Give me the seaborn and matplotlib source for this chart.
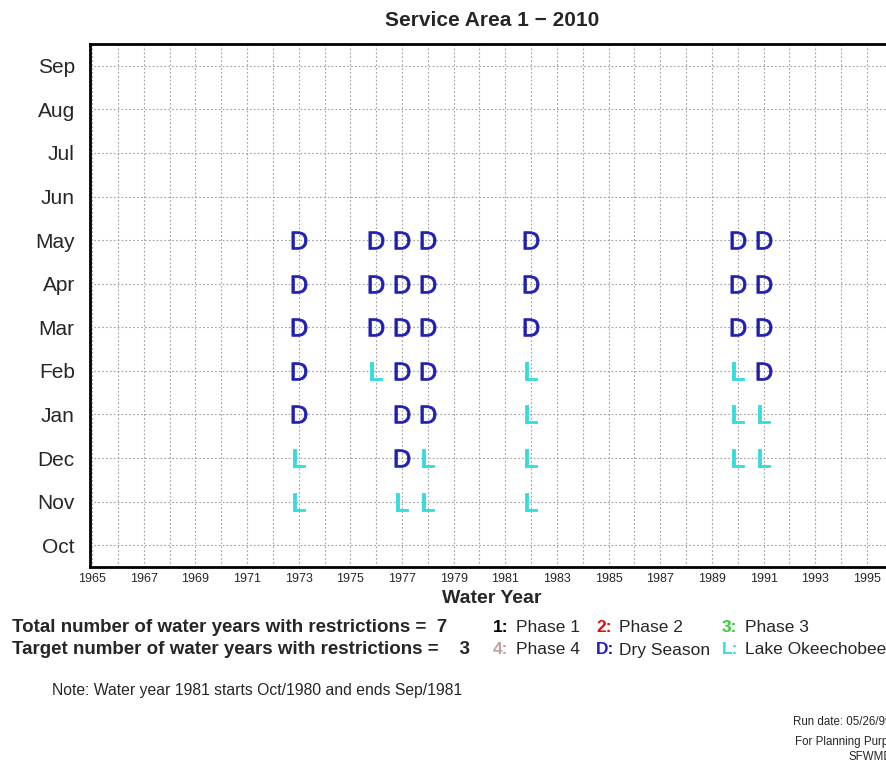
import pandas as pd
import matplotlib.pyplot as plt
import seaborn as sns

# month rows of a water year, bottom (Oct) to top (Sep)
months = ['Oct', 'Nov', 'Dec', 'Jan', 'Feb', 'Mar', 'Apr', 'May', 'Jun', 'Jul', 'Aug', 'Sep']

# water years with restrictions and the code shown for Nov..May ('' = nothing)
restriction_years = [1973, 1976, 1977, 1978, 1982, 1990, 1991]
season_months = ['Nov', 'Dec', 'Jan', 'Feb', 'Mar', 'Apr', 'May']
codes = [
    ['L', 'L', 'D', 'D', 'D', 'D', 'D'],  # 1973
    ['', '', '', 'L', 'D', 'D', 'D'],     # 1976
    ['L', 'D', 'D', 'D', 'D', 'D', 'D'],  # 1977
    ['L', 'L', 'D', 'D', 'D', 'D', 'D'],  # 1978
    ['L', 'L', 'L', 'L', 'D', 'D', 'D'],  # 1982
    ['', 'L', 'L', 'L', 'D', 'D', 'D'],   # 1990
    ['', 'L', 'L', 'D', 'D', 'D', 'D'],   # 1991
]

year_ticks = list(range(1965, 1997))
total_years = 7
target_years = 3

legend_keys = ['1', '2', '3', '4', 'D', 'L']
legend_names = ['Phase 1', 'Phase 2', 'Phase 3', 'Phase 4', 'Dry Season', 'Lake Okeechobee']
legend_colors = ['black', '#dd1111', '#33cc33', '#c0a4a4', '#2020b0', '#33dddd']
code_colors = {'D': '#2020b0', 'L': '#33dddd'}

rows = []
for yr, yr_codes in zip(restriction_years, codes):
    for m, c in zip(season_months, yr_codes):
        if c:
            rows.append({'year': yr, 'month': months.index(m), 'code': c})
df = pd.DataFrame(rows)

sns.set_style('white')
plt.rcParams['font.family'] = ['Liberation Sans', 'DejaVu Sans']

W, H = 887, 761
fig = plt.figure(figsize=(W / 100, H / 100), dpi=100)
ax = fig.add_axes([90 / W, 1 - 567 / H, 804 / W, (567 - 44) / H])

for code, sub in df.groupby('code'):
    sns.scatterplot(data=sub, x='year', y='month', color=code_colors[code],
                    marker=r'$\mathregular{' + code + '}$',
                    s=160, linewidth=0.6, edgecolor=code_colors[code],
                    legend=False, ax=ax, zorder=3)

ax.set_xlim(1964.92, 1996.05)
ax.set_ylim(-0.5, 11.5)
ax.set_xticks(year_ticks)
ax.set_xticklabels([str(y) if y % 2 == 1 else '' for y in year_ticks], fontsize=9)
ax.set_yticks(range(len(months)))
ax.set_yticklabels(months, fontsize=15)
ax.tick_params(axis='x', direction='in', length=5, width=0.8, pad=4)
ax.tick_params(axis='y', length=0, pad=11)
ax.grid(True, color='#a0a0a0', linestyle=(0, (1.5, 2)), linewidth=0.8)
ax.set_axisbelow(True)
for sp in ax.spines.values():
    sp.set_linewidth(2)
    sp.set_color('black')
ax.set_xlabel('Water Year', fontsize=14, fontweight='bold', labelpad=4)
ax.set_ylabel('')
ax.set_title('Service Area 1 \u2212 2010', fontsize=15, fontweight='bold', pad=13)

def ft(x, y, s, **kw):
    fig.text(x / W, 1 - y / H, s, va='center', **kw)

ft(12, 628, f'Total number of water years with restrictions =  {total_years}', fontsize=13.5, fontweight='bold')
ft(12, 650, f'Target number of water years with restrictions =    {target_years}', fontsize=13.5, fontweight='bold')

key_x = [493, 596, 722]
for i, (k, n, c) in enumerate(zip(legend_keys, legend_names, legend_colors)):
    x = key_x[i % 3]
    y = 628 if i < 3 else 650
    ft(x, y, k + ':', fontsize=12.5, fontweight='bold', color=c)
    ft(x + 23, y, n, fontsize=12.5)

ft(52, 690, 'Note: Water year 1981 starts Oct/1980 and ends Sep/1981', fontsize=11.3)
ft(793, 722, 'Run date: 05/26/99', fontsize=8.3)
ft(795, 742, 'For Planning Purposes', fontsize=8.3)
ft(849, 757, 'SFWMD', fontsize=8.3)

fig.savefig('out.png', dpi=100)
